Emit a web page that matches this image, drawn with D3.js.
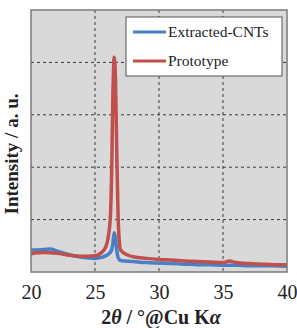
<!DOCTYPE html>
<html>
<head>
<meta charset="utf-8">
<script src="https://cdn.jsdelivr.net/npm/d3@7"></script>
<style>
  body { margin: 0; background: #fff; }
  svg { display: block; }
</style>
</head>
<body>
<div id="chart"></div>
<script>
// 2theta positions (deg) and intensities (a.u.)
const angleRed = [20, 21, 22, 23, 24, 25, 25.5, 25.8, 26.0, 26.2, 26.3, 26.4, 26.5, 26.6, 26.7, 26.8, 26.9, 27.0, 27.5, 28, 29, 30, 31, 32, 33, 34, 35, 35.5, 36, 37, 38, 39, 40];
const prototype = [0.35, 0.37, 0.36, 0.32, 0.30, 0.31, 0.37, 0.46, 0.62, 1.05, 1.9, 3.4, 4.1, 3.7, 2.3, 1.1, 0.58, 0.42, 0.33, 0.29, 0.26, 0.24, 0.23, 0.21, 0.20, 0.19, 0.18, 0.21, 0.18, 0.16, 0.15, 0.14, 0.14];

const angleBlue = [20, 21, 21.5, 22, 23, 24, 25, 25.5, 26, 26.3, 26.4, 26.5, 26.6, 26.7, 26.8, 27, 28, 29, 30, 31, 32, 33, 34, 35, 36, 37, 38, 39, 40];
const extracted = [0.42, 0.43, 0.44, 0.40, 0.33, 0.28, 0.26, 0.28, 0.33, 0.42, 0.55, 0.75, 0.65, 0.42, 0.28, 0.22, 0.20, 0.18, 0.17, 0.16, 0.15, 0.14, 0.14, 0.13, 0.13, 0.12, 0.12, 0.12, 0.11];

const xTicks = [20, 25, 30, 35, 40];
const yGrid = [1, 2, 3, 4];
const seriesNames = ["Extracted-CNTs", "Prototype"];
const seriesColors = ["#4a7fc4", "#c0504d"];

const serif = "Liberation Serif";

var W = 297, H = 328;
var margin = { top: 10, right: 10, bottom: 56, left: 31 },
    width = W - margin.left - margin.right,
    height = H - margin.top - margin.bottom;

var svg = d3.select("#chart").append("svg")
    .attr("width", W)
    .attr("height", H)
    .attr("font-family", serif);

var g = svg.append("g")
    .attr("transform", "translate(" + margin.left + "," + margin.top + ")");

var x = d3.scaleLinear().domain([20, 40]).range([0, width]);
var y = d3.scaleLinear().domain([0, 5]).range([height, 0]);

//Plot background
g.append("rect")
    .attr("width", width)
    .attr("height", height)
    .attr("fill", "#d9d9d9");

//Grid
g.selectAll(".vgrid")
    .data(xTicks.slice(1, -1))
    .enter().append("line")
    .attr("x1", d => x(d)).attr("x2", d => x(d))
    .attr("y1", 0).attr("y2", height)
    .attr("stroke", "#3a3a3a")
    .attr("stroke-width", 1)
    .attr("stroke-dasharray", "3,3");

g.selectAll(".hgrid")
    .data(yGrid)
    .enter().append("line")
    .attr("x1", 0).attr("x2", width)
    .attr("y1", d => y(d)).attr("y2", d => y(d))
    .attr("stroke", "#3a3a3a")
    .attr("stroke-width", 1)
    .attr("stroke-dasharray", "3,3");

//Lines
var line = d3.line()
    .x(d => x(d[0]))
    .y(d => y(d[1]))
    .curve(d3.curveMonotoneX);

g.append("path")
    .datum(d3.zip(angleBlue, extracted))
    .attr("fill", "none")
    .attr("stroke", seriesColors[0])
    .attr("stroke-width", 3.5)
    .attr("stroke-linejoin", "round")
    .attr("d", line);

g.append("path")
    .datum(d3.zip(angleRed, prototype))
    .attr("fill", "none")
    .attr("stroke", seriesColors[1])
    .attr("stroke-width", 3.5)
    .attr("stroke-linejoin", "round")
    .attr("d", line);

//Frame
g.append("rect")
    .attr("width", width)
    .attr("height", height)
    .attr("fill", "none")
    .attr("stroke", "#7a7a7a")
    .attr("stroke-width", 1.5);

//X axis labels
var xAxis = g.append("g")
    .attr("transform", "translate(0," + height + ")")
    .call(d3.axisBottom(x).tickValues(xTicks).tickSize(0).tickPadding(13).tickFormat(d3.format("d")));
xAxis.attr("font-family", serif).attr("font-size", 20);
xAxis.select(".domain").remove();
xAxis.selectAll("text")
    .attr("font-family", serif)
    .attr("font-size", 20)
    .attr("fill", "#222");

//X label
var xl = svg.append("text")
    .attr("x", margin.left + width / 2 + 2)
    .attr("y", 324)
    .attr("text-anchor", "middle")
    .attr("font-family", serif)
    .attr("font-size", 20)
    .attr("font-weight", "bold")
    .attr("fill", "#222");
xl.append("tspan").text("2");
xl.append("tspan").attr("font-style", "italic").text("θ");
xl.append("tspan").text(" / °@Cu K");
xl.append("tspan").attr("font-style", "italic").text("α");

//Y label
svg.append("text")
    .attr("transform", "translate(18,154) rotate(-90)")
    .attr("text-anchor", "middle")
    .attr("font-family", serif)
    .attr("font-size", 19)
    .attr("font-weight", "bold")
    .attr("fill", "#222")
    .text("Intensity / a. u.");

//Legend
var legend = svg.append("g").attr("transform", "translate(126,17)");
legend.append("rect")
    .attr("width", 156)
    .attr("height", 59)
    .attr("fill", "#fff")
    .attr("stroke", "#555")
    .attr("stroke-width", 1);

seriesNames.forEach(function (name, i) {
    var row = legend.append("g").attr("transform", "translate(0," + (15 + i * 29) + ")");
    row.append("line")
        .attr("x1", 7).attr("x2", 40)
        .attr("stroke", seriesColors[i])
        .attr("stroke-width", 3);
    row.append("text")
        .attr("x", 42)
        .attr("y", 5)
        .attr("font-family", serif)
        .attr("font-size", 15.5)
        .attr("fill", "#222")
        .text(name);
});
</script>
</body>
</html>
